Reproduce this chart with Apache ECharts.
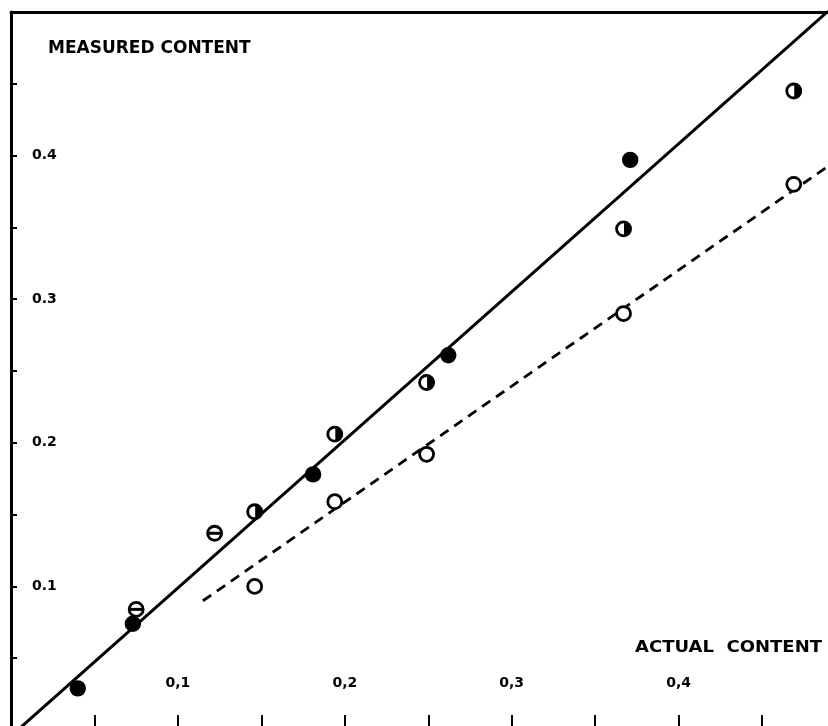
<!DOCTYPE html>
<html>
<head>
<meta charset="utf-8">
<script src="https://cdn.jsdelivr.net/npm/echarts@6/dist/echarts.min.js"></script>
<style>
  html, body { margin: 0; padding: 0; background: #fff; }
  #chart { width: 828px; height: 726px; }
</style>
</head>
<body>
<div id="chart"></div>
<script>
// Actual vs measured content, four sample groups
const filledPts = [[0.040, 0.029], [0.073, 0.074], [0.181, 0.178], [0.262, 0.261], [0.371, 0.397]];
const halfPts   = [[0.146, 0.152], [0.194, 0.206], [0.249, 0.242], [0.367, 0.349], [0.469, 0.445]];
const barPts    = [[0.075, 0.084], [0.122, 0.137]];
const openPts   = [[0.146, 0.100], [0.194, 0.159], [0.249, 0.192], [0.367, 0.290], [0.469, 0.380]];

// Fitted lines (end points)
const solidFit  = [[0.005, 0.001], [0.490, 0.501]];
const dashedFit = [[0.115, 0.090], [0.490, 0.393]];

// Tick labels
const xTickValues = [0.1, 0.2, 0.3, 0.4];
const xTickLabels = ['0,1', '0,2', '0,3', '0,4'];
const yTickValues = [0.1, 0.2, 0.3, 0.4];
const yTickLabels = ['0.1', '0.2', '0.3', '0.4'];

const FONT = 'DejaVu Sans';
const INK = '#000';

function labelFor(values, labels) {
  return function (v) {
    for (let i = 0; i < values.length; i++) {
      if (Math.abs(v - values[i]) < 1e-6) return labels[i];
    }
    return '';
  };
}

// Marker drawing for each sample group
function marker(kind) {
  return function (params, api) {
    const p = api.coord([api.value(0), api.value(1)]);
    const cx = p[0], cy = p[1];
    if (kind === 'filled') {
      return { type: 'circle', shape: { cx: cx, cy: cy, r: 8.2 }, style: { fill: INK } };
    }
    const ring = {
      type: 'circle',
      shape: { cx: cx, cy: cy, r: 7 },
      style: { fill: '#fff', stroke: INK, lineWidth: 2.8 }
    };
    if (kind === 'open') return ring;
    if (kind === 'half') {
      return {
        type: 'group',
        children: [
          ring,
          {
            type: 'sector',
            shape: { cx: cx + 0.5, cy: cy, r0: 0, r: 7.6, startAngle: -Math.PI / 2, endAngle: Math.PI / 2 },
            style: { fill: INK }
          }
        ]
      };
    }
    // ring with a horizontal bar
    return {
      type: 'group',
      children: [
        ring,
        {
          type: 'line',
          shape: { x1: cx - 6, y1: cy, x2: cx + 6, y2: cy },
          style: { stroke: INK, lineWidth: 3 }
        }
      ]
    };
  };
}

function markSeries(data, kind) {
  return {
    type: 'custom',
    coordinateSystem: 'cartesian2d',
    renderItem: marker(kind),
    encode: { x: 0, y: 1 },
    data: data,
    z: 5,
    silent: true
  };
}

const chart = echarts.init(document.getElementById('chart'), null, { renderer: 'canvas' });

// the frame runs past the right and bottom edges of the page
chart.setOption({
  animation: false,
  backgroundColor: '#fff',
  grid: { left: 11, top: 12, width: 834.5, height: 718, outerBoundsMode: 'none', containLabel: false },
  xAxis: [
    {
      type: 'value',
      min: 0,
      max: 0.5,
      interval: 0.05,
      splitLine: { show: false },
      axisLine: { show: true, onZero: false, lineStyle: { color: INK, width: 3 } },
      axisTick: { show: true, inside: true, length: 15, lineStyle: { color: INK, width: 2 } },
      axisLabel: {
        inside: true,
        margin: 40,
        color: INK,
        fontFamily: FONT,
        fontWeight: 'bold',
        fontSize: 14,
        formatter: labelFor(xTickValues, xTickLabels)
      }
    },
    {
      type: 'value',
      position: 'top',
      min: 0,
      max: 0.5,
      splitLine: { show: false },
      axisLine: { show: true, onZero: false, lineStyle: { color: INK, width: 3 } },
      axisTick: { show: false },
      axisLabel: { show: false }
    }
  ],
  yAxis: {
    type: 'value',
    min: 0,
    max: 0.5,
    interval: 0.05,
    splitLine: { show: false },
    axisLine: { show: true, onZero: false, lineStyle: { color: INK, width: 3 } },
    axisTick: { show: true, inside: true, length: 6, lineStyle: { color: INK, width: 2 } },
    axisLabel: {
      inside: true,
      margin: 21,
      color: INK,
      fontFamily: FONT,
      fontWeight: 'bold',
      fontSize: 14,
      formatter: labelFor(yTickValues, yTickLabels)
    }
  },
  graphic: [
    {
      type: 'text',
      x: 48,
      y: 49,
      style: { text: 'MEASURED CONTENT', fill: INK, font: 'bold 17px "DejaVu Sans"', textAlign: 'left', textVerticalAlign: 'middle' }
    },
    {
      type: 'text',
      x: 822,
      y: 648,
      scaleX: 1.2,
      style: { text: 'ACTUAL  CONTENT', fill: INK, font: 'bold 15px "DejaVu Sans"', textAlign: 'right', textVerticalAlign: 'middle' }
    }
  ],
  series: [
    {
      type: 'line',
      data: solidFit,
      symbol: 'none',
      lineStyle: { color: INK, width: 3 },
      z: 3,
      silent: true
    },
    {
      type: 'line',
      data: dashedFit,
      symbol: 'none',
      lineStyle: { color: INK, width: 2.8, type: [10, 7] },
      z: 3,
      silent: true
    },
    markSeries(filledPts, 'filled'),
    markSeries(halfPts, 'half'),
    markSeries(barPts, 'bar'),
    markSeries(openPts, 'open')
  ]
});
</script>
</body>
</html>
